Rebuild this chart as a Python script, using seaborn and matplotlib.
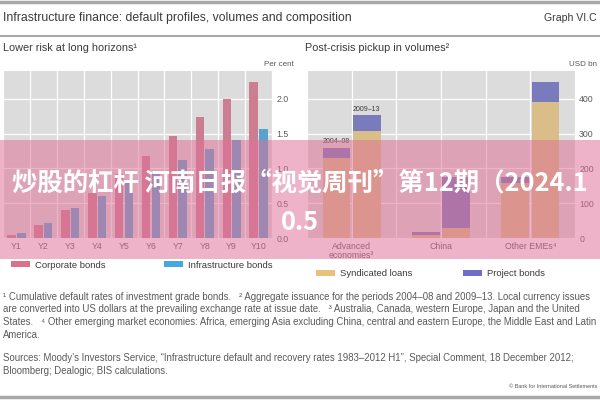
import matplotlib
matplotlib.use("Agg")
import matplotlib.pyplot as plt
import seaborn as sns
import pandas as pd
from matplotlib.patches import Patch, Rectangle
from matplotlib.lines import Line2D

# left panel: cumulative default rates, per cent
years = ['Y1', 'Y2', 'Y3', 'Y4', 'Y5', 'Y6', 'Y7', 'Y8', 'Y9', 'Y10']
corporate = [0.04, 0.19, 0.40, 0.65, 0.92, 1.18, 1.47, 1.74, 2.00, 2.24]
infrastructure = [0.07, 0.22, 0.43, 0.60, 0.80, 0.92, 1.12, 1.28, 1.41, 1.57]
left_ticks = [0.0, 0.5, 1.0, 1.5, 2.0]
left_ticklabels = ['0.0', '0.5', '1.0', '1.5', '2.0']

# right panel: issuance, USD bn
regions = ['Advanced\neconomies³', 'China', 'Other EMEs⁴']
periods = ['2004–08', '2009–13']
syndicated_0408 = [231, 8, 158]
project_0408 = [29, 9, 17]
syndicated_0913 = [307, 30, 391]
project_0913 = [46, 145, 56]
right_ticks = [0, 100, 200, 300, 400]

PINK = '#d9708c'
BLUE = '#45a8e0'
TAN = '#e6c27c'
PURPLE = '#6e70c8'
GRID_BG = '#dcdcdc'
TXT = '#3a3a3a'
TICK = '#5a5a5a'

plt.rcParams['font.family'] = ['Liberation Sans', 'DejaVu Sans']

fig = plt.figure(figsize=(6, 4), dpi=100)


def box(x0, y0, x1, y1):
    # pixel box (top-left origin) -> figure fraction rect
    return [x0 / 600, 1 - y1 / 400, (x1 - x0) / 600, (y1 - y0) / 400]


def fy(y):
    return 1 - y / 400


def style_axis(ax):
    ax.set_facecolor(GRID_BG)
    for s in ax.spines.values():
        s.set_visible(False)
    ax.yaxis.tick_right()
    ax.tick_params(axis='both', length=0, labelsize=6.3, colors=TICK, pad=3)
    ax.grid(True, color='white', lw=0.9)
    ax.set_axisbelow(True)
    ax.set_xlabel('')
    ax.set_ylabel('')


# ---- left panel
ax1 = fig.add_axes(box(3, 71, 272, 238))
df_left = pd.DataFrame({
    'year': years * 2,
    'value': corporate + infrastructure,
    'series': ['Corporate bonds'] * len(years) + ['Infrastructure bonds'] * len(years),
})
sns.barplot(data=df_left, x='year', y='value', hue='series',
            palette=[PINK, BLUE], width=0.72, gap=0.12, ax=ax1, legend=False)
ax1.set_xlim(-0.5, len(years) - 0.5)
ax1.set_ylim(0, 2.4)
ax1.set_yticks(left_ticks)
ax1.set_yticklabels(left_ticklabels)
ax1.set_xticks([i - 0.5 for i in range(len(years) + 1)], minor=True)
style_axis(ax1)
ax1.grid(False, axis='x', which='major')
ax1.grid(True, axis='x', which='minor', color='white', lw=0.9)
ax1.tick_params(which='minor', length=0)

# ---- right panel (stacked: totals drawn first, loans on top)
ax2 = fig.add_axes(box(307, 71, 575, 238))
df_right = pd.DataFrame({
    'region': regions * 2,
    'period': [periods[0]] * 3 + [periods[1]] * 3,
    'syndicated': syndicated_0408 + syndicated_0913,
    'project': project_0408 + project_0913,
})
df_right['total'] = df_right['syndicated'] + df_right['project']
sns.barplot(data=df_right, x='region', y='total', hue='period',
            palette=[PURPLE, PURPLE], width=0.68, gap=0.08, ax=ax2, legend=False)
n_tot = len(ax2.patches)
sns.barplot(data=df_right, x='region', y='syndicated', hue='period',
            palette=[TAN, TAN], width=0.68, gap=0.08, ax=ax2, legend=False)
ax2.set_xlim(-0.5, 2.5)
ax2.set_ylim(0, 480)
ax2.set_yticks(right_ticks)
ax2.set_xticks([i * 0.5 - 0.5 for i in range(7)], minor=True)
style_axis(ax2)
ax2.grid(True, axis='x', which='minor', color='white', lw=0.9)
ax2.tick_params(which='minor', length=0)
ax2.set_xticks(range(len(regions)))
ax2.set_xticklabels(regions, linespacing=0.95)

# period labels above the advanced economies bars
tot_bars = ax2.patches[:n_tot]
for bar, lab in zip([tot_bars[0], tot_bars[3]], periods):
    ax2.text(bar.get_x() + bar.get_width() / 2, bar.get_height() + 6, lab,
             ha='center', va='bottom', fontsize=5, color=TXT)

# ---- titles and frame lines
fig.add_artist(Line2D([0, 1], [fy(1.5)] * 2, color='#a8a8a8', lw=2.5))
fig.add_artist(Line2D([0, 1], [fy(36)] * 2, color='#a8a8a8', lw=1.5))
fig.add_artist(Line2D([0, 1], [fy(397)] * 2, color='#a8a8a8', lw=2.5))
fig.text(3 / 600, fy(18), 'Infrastructure finance: default profiles, volumes and composition',
         fontsize=8.8, color=TXT, va='center')
fig.text(597 / 600, fy(18), 'Graph VI.C', fontsize=7.6, color=TXT, va='center', ha='right')
fig.text(3 / 600, fy(48), 'Lower risk at long horizons¹', fontsize=7.8, color=TXT, va='center')
fig.text(305 / 600, fy(48), 'Post-crisis pickup in volumes²', fontsize=7.8, color=TXT, va='center')
fig.text(294 / 600, fy(64), 'Per cent', fontsize=5.8, color=TICK, va='center', ha='right')
fig.text(597 / 600, fy(64), 'USD bn', fontsize=5.8, color=TICK, va='center', ha='right')

# ---- legends
def legend_entry(x, y, color, label):
    lg = fig.legend(handles=[Patch(facecolor=color, edgecolor='none')], labels=[label],
                    loc='center left', bbox_to_anchor=(x / 600, fy(y)), frameon=False,
                    fontsize=6.8, handlelength=2.0, handleheight=0.5, borderaxespad=0,
                    borderpad=0, handletextpad=0.5)
    for t in lg.get_texts():
        t.set_color(TXT)


legend_entry(11, 265, PINK, 'Corporate bonds')
legend_entry(164, 265, BLUE, 'Infrastructure bonds')
legend_entry(316, 274, TAN, 'Syndicated loans')
legend_entry(463, 274, PURPLE, 'Project bonds')

# ---- footnotes and sources
notes = [
    '¹ Cumulative default rates of investment grade bonds.   ² Aggregate issuance for the periods 2004–08 and 2009–13. Local currency issues',
    'are converted into US dollars at the prevailing exchange rate at issue date.   ³ Australia, Canada, western Europe, Japan and the United',
    'States.   ⁴ Other emerging market economies: Africa, emerging Asia excluding China, central and eastern Europe, the Middle East and Latin',
    'America.',
]
for i, line in enumerate(notes):
    fig.text(3 / 600, fy(297 + i * 12.5), line, fontsize=6.9, color=TICK, va='center')
sources = [
    'Sources: Moody’s Investors Service, “Infrastructure default and recovery rates 1983–2012 H1”, Special Comment, 18 December 2012;',
    'Bloomberg; Dealogic; BIS calculations.',
]
for i, line in enumerate(sources):
    fig.text(3 / 600, fy(358 + i * 12.5), line, fontsize=6.9, color=TICK, va='center')
fig.text(597 / 600, fy(387), '© Bank for International Settlements', fontsize=4,
         color=TICK, va='center', ha='right')

# ---- pink banner over the middle of the picture
fig.add_artist(Rectangle((0, fy(259)), 1, (259 - 140) / 400, transform=fig.transFigure,
                         facecolor='#e06e96', alpha=0.52, edgecolor='none', zorder=20))
banner_font = ['Noto Sans CJK SC', 'DejaVu Sans']
fig.text(0.5, fy(183), '炒股的杠杆 河南日报“视觉周刊”第12期（2024.1',
         fontsize=18.3, fontweight='bold', color='white', ha='center', va='center',
         zorder=21, family=banner_font)
fig.text(0.5, fy(222), '0.5',
         fontsize=18.3, fontweight='bold', color='white', ha='center', va='center',
         zorder=21, family=banner_font)

fig.savefig('out.png', dpi=100)
